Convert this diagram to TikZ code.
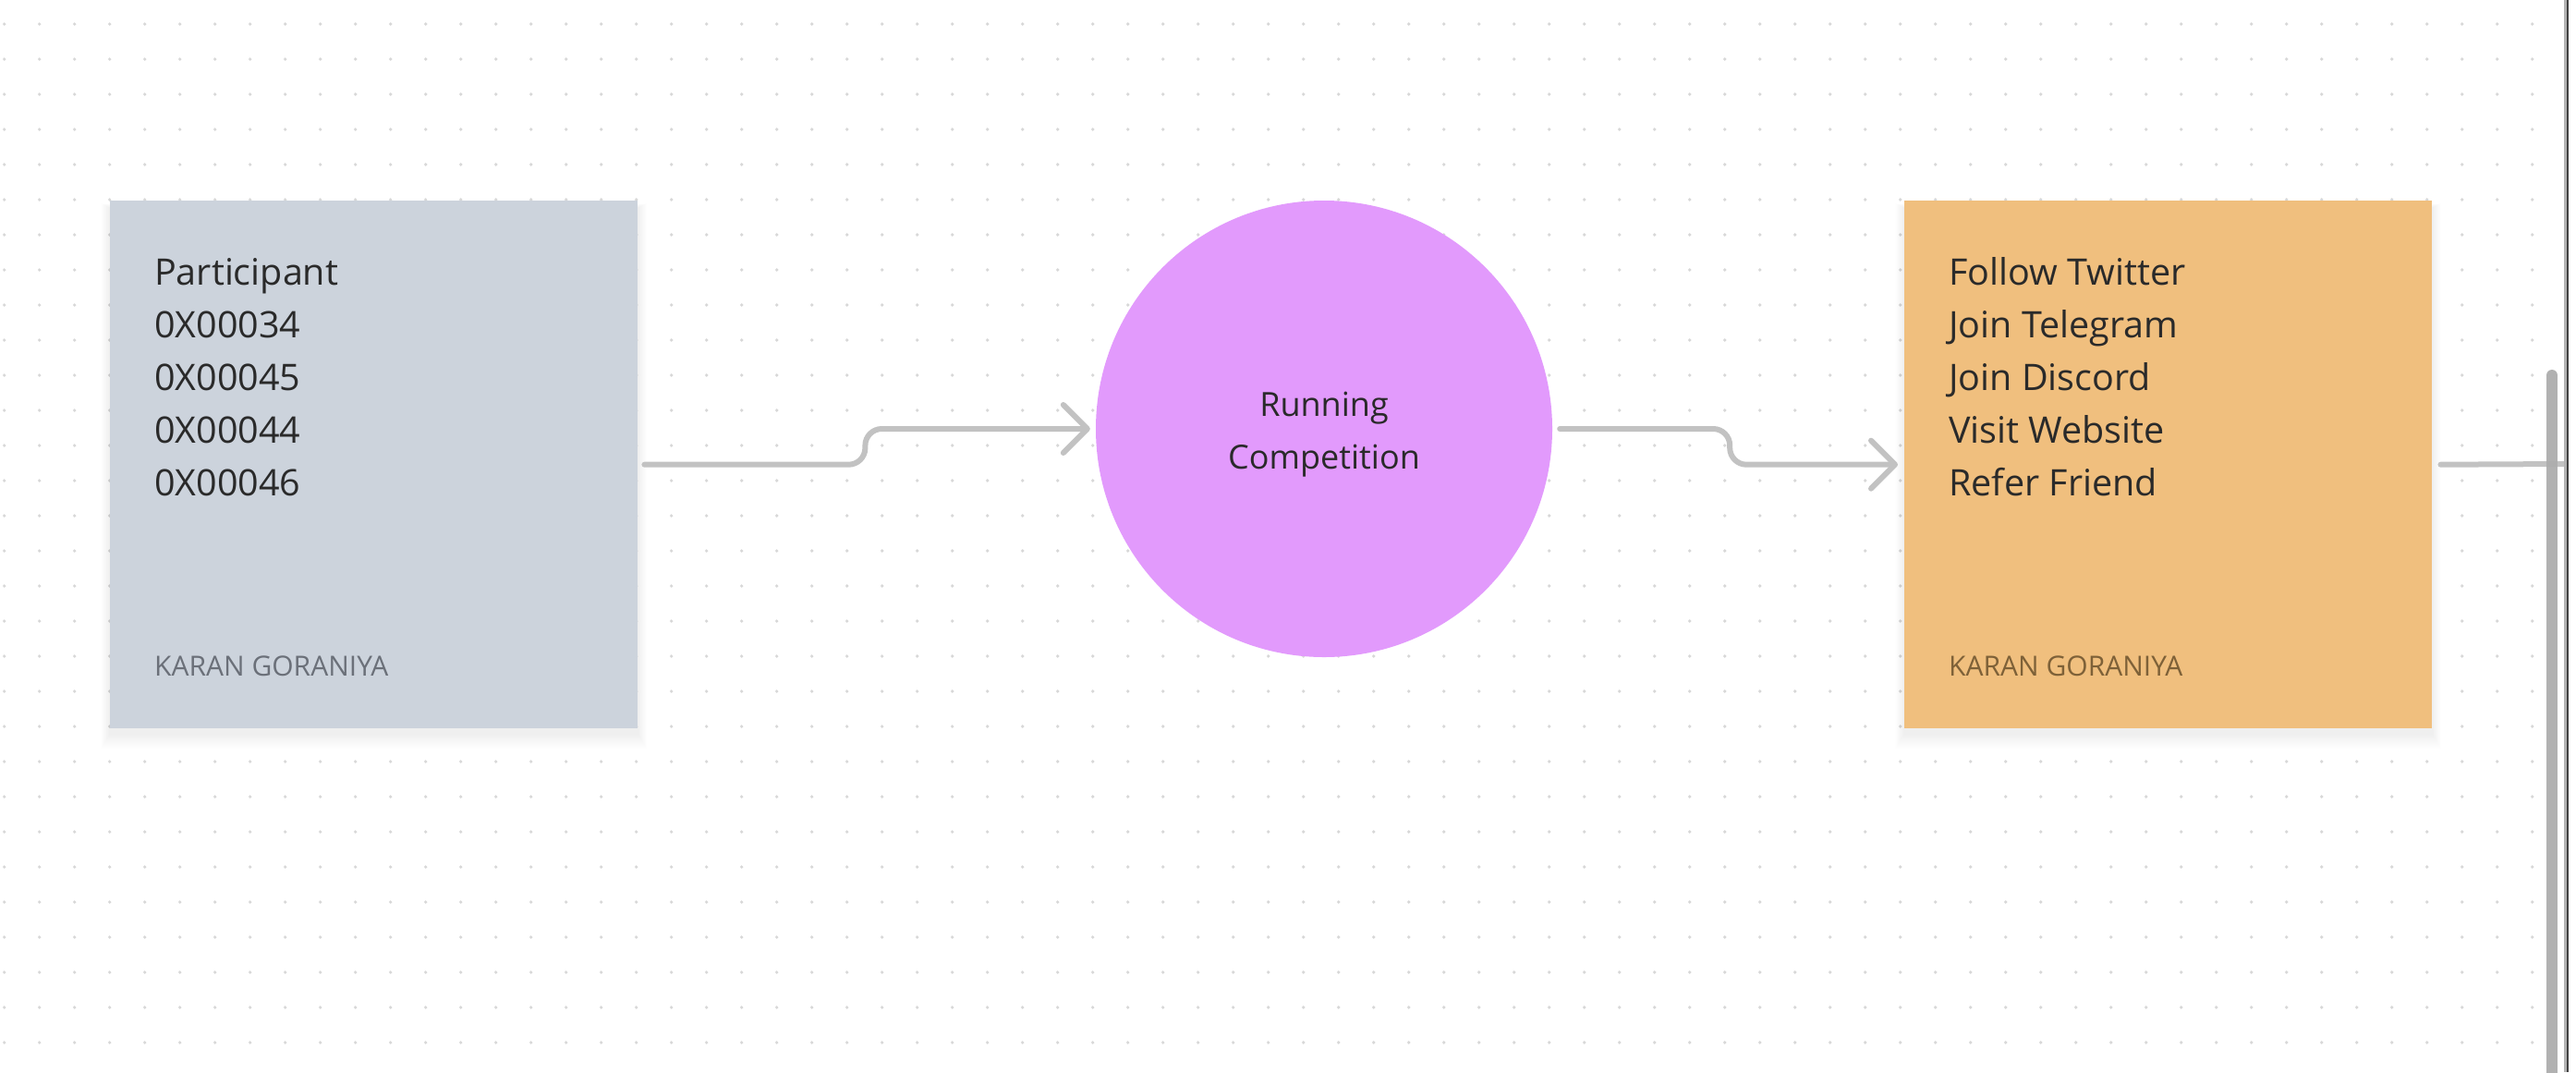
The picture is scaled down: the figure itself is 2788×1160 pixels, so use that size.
\documentclass[tikz,border=0pt]{standalone}
\usepackage{fontspec}
\setmainfont{Open Sans}
\usetikzlibrary{arrows.meta,calc}
\definecolor{slatebox}{HTML}{CCD3DC}
\definecolor{orangebox}{HTML}{F0BF7E}
\definecolor{purplecirc}{HTML}{E29AFC}
\definecolor{connc}{HTML}{C2C2C2}
\definecolor{maintext}{HTML}{2A2A2A}
\definecolor{footgray}{HTML}{6B7079}
\definecolor{footbrown}{HTML}{7E6138}
\definecolor{dotc}{HTML}{D8D8D8}
\definecolor{scrollc}{HTML}{ADADAD}
\pgfdeclarelayer{dots}
\pgfdeclarelayer{shadow}
\pgfsetlayers{dots,shadow,main}
\tikzset{
  notebox/.style={rectangle, inner sep=0pt, minimum width=571pt, minimum height=571pt, anchor=north west},
  mainline/.style={anchor=base west, inner sep=0pt, text=maintext, font=\fontsize{39.5}{57}\selectfont},
  footline/.style={anchor=base west, inner sep=0pt, font=\fontsize{30}{36}\selectfont},
  circtext/.style={anchor=base, inner sep=0pt, text=maintext, font=\fontsize{36}{57}\selectfont},
  conn/.style={draw=connc, line width=6pt, line cap=round, line join=round, rounded corners=18pt},
  tipped/.style={-{Straight Barb[length=26pt,width=52pt,line cap=round,line join=round]}},
}
\begin{document}
\begin{tikzpicture}[x=1pt,y=-1pt]
\useasboundingbox (0,0) rectangle (2788,1160);
\begin{pgfonlayer}{dots}
\fill[white] (0,0) rectangle (2788,1160);
\foreach \gx in {0,...,72} {
  \foreach \gy in {0,...,30} {
    \fill[dotc] (4.7+38*\gx, 26+38*\gy) circle (1.8);
  }
}
\end{pgfonlayer}

% boxes
\node[notebox, fill=slatebox] (A) at (119,217) {};
\node[notebox, fill=orangebox] (B) at (2061,217) {};
\node[circle, fill=purplecirc, minimum size=494pt, inner sep=0pt] (C) at (1433,464) {};

% shadows
\begin{pgfonlayer}{shadow}
\foreach \bx in {A,B} {
  \foreach \k in {1,...,16} {
    \fill[black, opacity=0.0045] ($(\bx.north west)+(-\k*0.6,-\k*0.3+8)$) rectangle ($(\bx.south east)+(\k*0.6,\k*1.0+6)$);
  }
}
\end{pgfonlayer}

% left box text
\foreach \t [count=\i] in {Participant,0X00034,0X00045,0X00044,0X00046} {
  \node[mainline] (a\i) at ($(A.north west)+(48,91+57*\i-57)$) {\t};
}
\node[footline, text=footgray] (af) at ($(A.north west)+(48,514)$) {KARAN GORANIYA};

% right box text
\foreach \t [count=\i] in {Follow Twitter,Join Telegram,Join Discord,Visit Website,Refer Friend} {
  \node[mainline] (b\i) at ($(B.north west)+(48,91+57*\i-57)$) {\t};
}
\node[footline, text=footbrown] (bf) at ($(B.north west)+(48,514)$) {KARAN GORANIYA};

% circle text
\node[circtext] (c1) at ($(C.center)+(0,-14)$) {Running};
\node[circtext] (c2) at ($(C.center)+(0,43)$) {Competition};

% connectors
\draw[conn, tipped] ($(A.east)+(7,0)$) -- ($(A.east)+(246,0)$) |- ($(C.west)+(-6,0)$);
\draw[conn, tipped] ($(C.east)+(8,0)$) -- ($(C.east)+(192,0)$) |- ($(B.west)+(-7,0)$);
\coordinate (E) at (2777,502);
\draw[conn] ($(B.east)+(9,0)$) -- (E);

% scrollbar and window edge
\draw[scrollc, opacity=0.95, line width=12pt, line cap=round] (2762,406) -- (2762,1180);
\fill[black!30] (2775,0) rectangle (2777.5,1160);
\fill[black!75] (2777.5,0) rectangle (2780,1160);
\fill[white] (2780,0) rectangle (2788,1160);
\end{tikzpicture}
\end{document}
